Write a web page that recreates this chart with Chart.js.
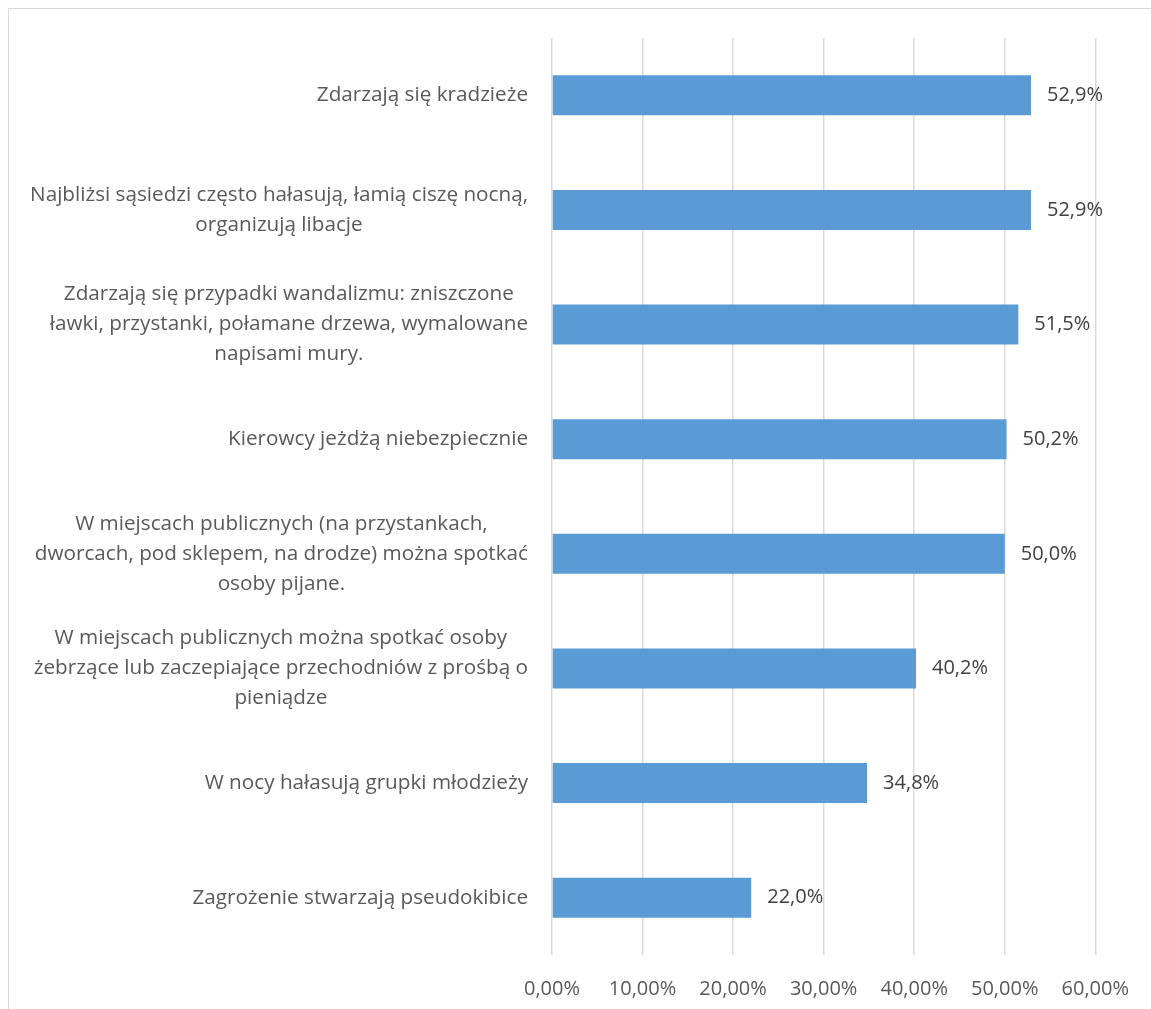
<!DOCTYPE html>
<html>
<head>
<meta charset="utf-8">
<script src="https://cdn.jsdelivr.net/npm/chart.js@4"></script>
<style>
  html, body { margin: 0; padding: 0; background: #fff; }
  #wrap { position: relative; width: 1151px; height: 1009px; }
  #frame { position: absolute; left: 8px; top: 8px; width: 1160px; height: 1020px; border: 1px solid #d9d9d9; }
  canvas { position: absolute; left: 0; top: 0; }
</style>
</head>
<body>
<div id="wrap">
  <div id="frame"></div>
  <canvas id="chart" width="1151" height="1009"></canvas>
</div>
<script>
// Categories (top to bottom), each an array of lines
const categories = [
  ['Zdarzają się kradzieże'],
  ['Najbliżsi sąsiedzi często hałasują, łamią ciszę nocną,', 'organizują libacje'],
  ['Zdarzają się przypadki wandalizmu: zniszczone', 'ławki, przystanki, połamane drzewa, wymalowane', 'napisami mury.'],
  ['Kierowcy jeżdżą niebezpiecznie'],
  ['W miejscach publicznych (na przystankach,', 'dworcach, pod sklepem, na drodze) można spotkać', 'osoby pijane.'],
  ['W miejscach publicznych można spotkać osoby', 'żebrzące lub zaczepiające przechodniów z prośbą o', 'pieniądze'],
  ['W nocy hałasują grupki młodzieży'],
  ['Zagrożenie stwarzają pseudokibice']
];
const values = [52.9, 52.9, 51.5, 50.2, 50.0, 40.2, 34.8, 22.0];
const valueLabels = ['52,9%', '52,9%', '51,5%', '50,2%', '50,0%', '40,2%', '34,8%', '22,0%'];
const xTicks = [0, 10, 20, 30, 40, 50, 60];

const FONT = '"Open Sans", sans-serif';
const LABEL_SIZE = 20.7;
const FONT_SIZE = 20;
const LINE_H = 30;

// Draws the category labels: lines centered within a block, block right-aligned to the axis
const categoryLabels = {
  id: 'categoryLabels',
  afterDraw(chart) {
    const { ctx, scales } = chart;
    const yScale = scales.y;
    const right = chart.chartArea.left - 24;
    ctx.save();
    ctx.font = LABEL_SIZE + 'px ' + FONT;
    ctx.fillStyle = '#595959';
    ctx.textAlign = 'center';
    ctx.textBaseline = 'middle';
    categories.forEach((lines, i) => {
      const yc = yScale.getPixelForValue(i);
      const maxW = Math.max(...lines.map(l => ctx.measureText(l).width));
      const xc = right - maxW / 2;
      const y0 = yc - (lines.length - 1) * LINE_H / 2;
      lines.forEach((l, j) => ctx.fillText(l, xc, y0 + j * LINE_H));
    });
    ctx.restore();
  }
};

// Value labels at the end of each bar
const valueLabelsPlugin = {
  id: 'valueLabels',
  afterDatasetsDraw(chart) {
    const { ctx } = chart;
    const meta = chart.getDatasetMeta(0);
    ctx.save();
    ctx.font = FONT_SIZE + 'px ' + FONT;
    ctx.fillStyle = '#404040';
    ctx.textAlign = 'left';
    ctx.textBaseline = 'middle';
    meta.data.forEach((bar, i) => {
      ctx.fillText(valueLabels[i], bar.x + 16, bar.y);
    });
    ctx.restore();
  }
};

new Chart(document.getElementById('chart'), {
  type: 'bar',
  data: {
    labels: categories.map(c => c.join(' ')),
    datasets: [{
      data: values,
      backgroundColor: '#5b9bd5',
      borderWidth: 0,
      categoryPercentage: 1,
      barPercentage: 0.35
    }]
  },
  options: {
    responsive: false,
    animation: false,
    indexAxis: 'y',
    layout: {
      padding: { left: 544, right: 54, top: 38, bottom: -14 }
    },
    scales: {
      x: {
        min: 0,
        max: 60,
        afterBuildTicks: axis => { axis.ticks = xTicks.map(v => ({ value: v })); },
        ticks: {
          color: '#595959',
          font: { family: FONT, size: FONT_SIZE },
          padding: 22,
          callback: v => v.toFixed(2).replace('.', ',') + '%'
        },
        grid: { color: '#d9d9d9', lineWidth: 1.5, drawTicks: false },
        border: { display: false }
      },
      y: {
        ticks: { display: false },
        grid: { display: false },
        border: { display: false }
      }
    },
    plugins: {
      legend: { display: false },
      tooltip: { enabled: false }
    }
  },
  plugins: [categoryLabels, valueLabelsPlugin]
});
</script>
</body>
</html>
